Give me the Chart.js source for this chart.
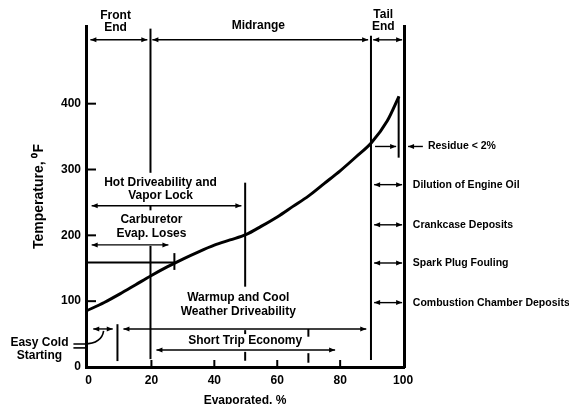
<!DOCTYPE html>
<html>
<head>
<meta charset="utf-8">
<script src="https://cdn.jsdelivr.net/npm/chart.js@4"></script>
<style>
  body { margin: 0; background: #fff; }
</style>
</head>
<body>
<canvas id="chart" width="569" height="404"></canvas>
<script>
// distillation curve
const evaporated  = [-0.8, 5, 10, 15, 20, 25, 30, 35, 40, 45, 50, 55, 60, 65, 70, 75, 80, 85, 90, 95, 98.7];
const temperature = [85, 98, 111, 125, 139, 152, 164, 175, 185, 193, 201, 214, 228, 244, 260, 279, 298, 319, 341, 374, 411];

const xTicks = [0, 20, 40, 60, 80, 100];
const yTicks = [0, 100, 200, 300, 400];

// arrows: [from %, to %, temp F, heads]
const rangeArrows = [
    [0.6, 18.7, 497, 'both'],
    [20.3, 88.9, 497, 'both'],
    [90.5, 99.7, 497, 'both'],
    [1.0, 48.6, 245, 'both'],
    [1.0, 25.4, 185.5, 'both'],
    [1.5, 7.7, 57.8, 'both'],
    [11.1, 88.3, 57.8, 'both'],
    [21.6, 78.4, 25.9, 'both'],
    [91.1, 97.8, 335, 'end'],
    [106.3, 101.6, 335, 'end'],
    [90.8, 99.7, 277, 'both'],
    [90.8, 99.7, 216, 'both'],
    [90.8, 99.7, 158, 'both'],
    [90.8, 99.7, 97.8, 'both']
];

// plain lines: [x1 %, t1, x2 %, t2]
const dividers = [
    [19.7, 514, 19.7, 295],
    [19.7, 245, 19.7, 238],
    [19.7, 184, 19.7, 12],
    [49.8, 280, 49.8, 122],
    [-0.8, 158.6, 27.3, 158.6],
    [27.3, 173, 27.3, 147.5],
    [9.2, 65, 9.2, 9],
    [49.8, 56, 49.8, 50],
    [49.8, 23, 49.8, 9.5],
    [69.9, 57.8, 69.9, 46],
    [69.9, 21, 69.9, 6.5],
    [89.8, 503, 89.8, 10.6],
    [98.6, 411, 98.6, 318]
];

// easy cold starting leader
const leader = [[4.8, 54.8], [4.2, 35.5], [-1.3, 35], [-4.8, 35]];
const leader2 = [[-4.8, 29], [-0.9, 29]];

// text: [text, %, temp]
const notes = [
    ['Front', 8.6, 534], ['End', 8.6, 516],
    ['Midrange', 54, 519],
    ['Tail', 93.7, 535], ['End', 93.7, 517],
    ['Hot Driveability and', 22.9, 280], ['Vapor Lock', 22.9, 260],
    ['Carburetor', 20, 223.6], ['Evap. Loses', 20, 202],
    ['Warmup and Cool', 47.6, 105], ['Weather Driveability', 47.6, 83.6],
    ['Short Trip Economy', 49.8, 40],
    ['Easy Cold', -15.6, 36.5], ['Starting', -15.6, 16.7]
];
const sideNotes = [
    ['Residue < 2%', 107.9, 335],
    ['Dilution of Engine Oil', 103.1, 277],
    ['Crankcase Deposits', 103.1, 216],
    ['Spark Plug Fouling', 103.1, 158],
    ['Combustion Chamber Deposits', 103.1, 97.8]
];

const FONT = '"Liberation Sans", Arial, sans-serif';

function seg(ctx, x1, y1, x2, y2) {
    ctx.beginPath();
    ctx.moveTo(x1, y1);
    ctx.lineTo(x2, y2);
    ctx.stroke();
}
function head(ctx, x, y, dir) {
    ctx.beginPath();
    ctx.moveTo(x, y);
    ctx.lineTo(x - dir * 6, y - 2.5);
    ctx.lineTo(x - dir * 6, y + 2.5);
    ctx.closePath();
    ctx.fill();
}

const overlay = {
    id: 'overlay',
    afterDraw(chart) {
        const ctx = chart.ctx;
        const xs = chart.scales.x, ys = chart.scales.y;
        const px = v => xs.getPixelForValue(v);
        const py = v => ys.getPixelForValue(v);
        ctx.save();
        ctx.strokeStyle = '#000';
        ctx.fillStyle = '#000';

        // inward tick marks
        ctx.lineWidth = 2;
        yTicks.slice(1).forEach(t => seg(ctx, xs.left, py(t), xs.left + 10, py(t)));
        xTicks.slice(1, 5).forEach(t => seg(ctx, px(t), ys.bottom, px(t), ys.bottom - 7));

        // dividers
        ctx.lineWidth = 2;
        dividers.forEach(d => seg(ctx, px(d[0]), py(d[1]), px(d[2]), py(d[3])));

        // arrows
        ctx.lineWidth = 1.4;
        rangeArrows.forEach(a => {
            const x1 = px(a[0]), x2 = px(a[1]), y = py(a[2]);
            const dir = x2 > x1 ? 1 : -1;
            seg(ctx, x1, y, x2, y);
            head(ctx, x2, y, dir);
            if (a[3] == 'both') head(ctx, x1, y, -dir);
        });

        // leader for easy cold starting
        ctx.lineWidth = 1.6;
        ctx.beginPath();
        ctx.moveTo(px(leader[0][0]), py(leader[0][1]));
        ctx.quadraticCurveTo(px(leader[1][0]), py(leader[1][1]), px(leader[2][0]), py(leader[2][1]));
        ctx.lineTo(px(leader[3][0]), py(leader[3][1]));
        ctx.stroke();
        seg(ctx, px(leader2[0][0]), py(leader2[0][1]), px(leader2[1][0]), py(leader2[1][1]));

        // text
        ctx.textBaseline = 'middle';
        ctx.textAlign = 'center';
        ctx.font = 'bold 12px ' + FONT;
        notes.forEach(n => ctx.fillText(n[0], px(n[1]), py(n[2])));
        ctx.textAlign = 'left';
        ctx.font = 'bold 10.5px ' + FONT;
        sideNotes.forEach(n => ctx.fillText(n[0], px(n[1]), py(n[2])));
        ctx.restore();
    }
};

const tickFont = { family: FONT, size: 12, weight: 'bold' };

new Chart(document.getElementById('chart'), {
    type: 'line',
    data: {
        datasets: [{
            data: evaporated.map((x, i) => ({ x: x, y: temperature[i] })),
            borderColor: '#000',
            borderWidth: 3,
            pointRadius: 0,
            tension: 0.4,
            cubicInterpolationMode: 'monotone',
            fill: false
        }]
    },
    options: {
        responsive: false,
        animation: false,
        layout: { padding: { top: 26, right: 165, left: 0, bottom: 0 } },
        plugins: { legend: { display: false }, tooltip: { enabled: false } },
        scales: {
            x: {
                type: 'linear',
                min: -0.8,
                max: 100.3,
                afterBuildTicks: s => { s.ticks = xTicks.map(v => ({ value: v })); },
                afterFit: s => { s.height = 37; },
                grid: { display: false, drawTicks: false },
                border: { display: true, width: 3, color: '#000' },
                ticks: { font: tickFont, color: '#000', padding: 6, maxRotation: 0 },
                title: {
                    display: true, text: 'Evaporated, %', color: '#000',
                    font: tickFont, padding: { top: 0, bottom: -4 }
                }
            },
            y: {
                type: 'linear',
                min: 0,
                max: 518,
                afterBuildTicks: s => { s.ticks = yTicks.map(v => ({ value: v })); },
                afterFit: s => { s.width = 86; },
                grid: { display: false, drawTicks: false },
                border: { display: true, width: 3, color: '#000' },
                ticks: { font: tickFont, color: '#000', padding: 5 },
                title: {
                    display: true, text: 'Temperature, ⁰F', color: '#000',
                    font: { family: FONT, size: 14, weight: 'bold' },
                    padding: { top: 31, bottom: 0 }
                }
            },
            y2: {
                type: 'linear',
                position: 'right',
                min: 0,
                max: 518,
                afterFit: s => { s.width = 0; },
                grid: { display: false, drawTicks: false },
                border: { display: true, width: 3, color: '#000' },
                ticks: { display: false }
            }
        }
    },
    plugins: [overlay]
});
</script>
</body>
</html>
